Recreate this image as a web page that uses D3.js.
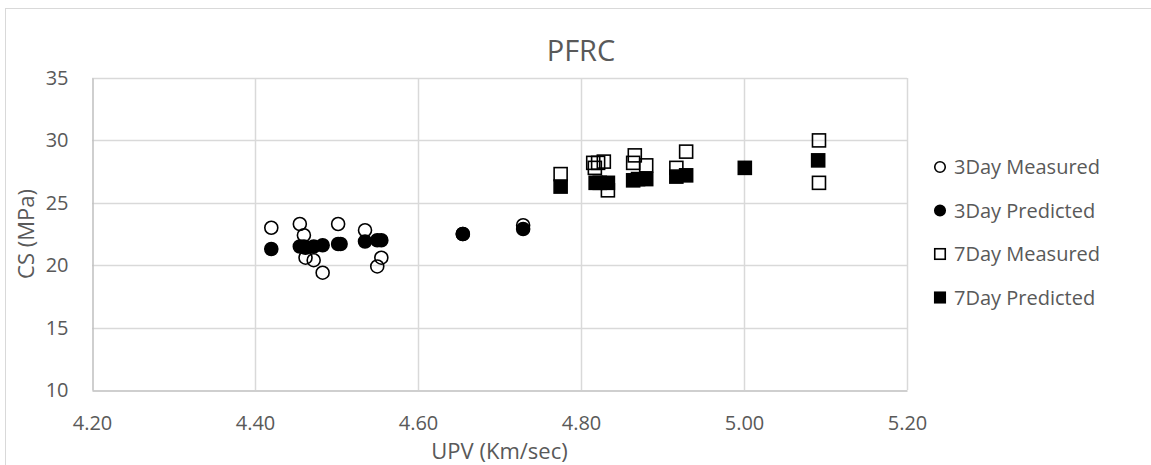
<!DOCTYPE html>
<html>
<head>
<meta charset="utf-8">
<script src="https://cdn.jsdelivr.net/npm/d3@7"></script>
<style>
  html, body { margin: 0; padding: 0; background: #fff; }
  svg { display: block; font-family: "Open Sans", "Liberation Sans", sans-serif; }
</style>
</head>
<body>
<svg id="chart" width="1151" height="465"></svg>
<script>
// UPV (km/s) against compressive strength (MPa), PFRC mixes
const measured3X  = [4.420, 4.455, 4.460, 4.462, 4.472, 4.483, 4.502, 4.535, 4.550, 4.555, 4.655, 4.729];
const measured3Y  = [23.0, 23.3, 22.4, 20.6, 20.4, 19.4, 23.3, 22.8, 19.9, 20.6, 22.5, 23.2];
const predicted3X = [4.420, 4.455, 4.460, 4.462, 4.472, 4.483, 4.502, 4.505, 4.535, 4.550, 4.555, 4.655, 4.729];
const predicted3Y = [21.3, 21.5, 21.5, 21.4, 21.5, 21.6, 21.7, 21.7, 21.9, 22.0, 22.0, 22.5, 22.9];
const measured7X  = [4.775, 4.815, 4.817, 4.821, 4.828, 4.833, 4.864, 4.866, 4.880, 4.917, 4.929, 5.092, 5.092];
const measured7Y  = [27.3, 28.2, 27.8, 28.2, 28.3, 26.0, 28.2, 28.8, 28.0, 27.8, 29.1, 30.0, 26.6];
const predicted7X = [4.775, 4.818, 4.823, 4.833, 4.864, 4.870, 4.880, 4.917, 4.929, 5.001, 5.091];
const predicted7Y = [26.3, 26.6, 26.6, 26.6, 26.8, 26.9, 26.9, 27.1, 27.2, 27.8, 28.4];
const xTicks = [4.20, 4.40, 4.60, 4.80, 5.00, 5.20];
const yTicks = [10, 15, 20, 25, 30, 35];
const seriesNames = ["3Day Measured", "3Day Predicted", "7Day Measured", "7Day Predicted"];

const series = [
  { name: seriesNames[0], xs: measured3X,  ys: measured3Y,  shape: "circle", filled: false },
  { name: seriesNames[1], xs: predicted3X, ys: predicted3Y, shape: "circle", filled: true },
  { name: seriesNames[2], xs: measured7X,  ys: measured7Y,  shape: "square", filled: false },
  { name: seriesNames[3], xs: predicted7X, ys: predicted7Y, shape: "square", filled: true }
];

const svg = d3.select("#chart");
const plot = { left: 92, right: 907, top: 78, bottom: 390 };
const textColor = "#595959";

// chart area border
svg.append("rect")
  .attr("x", 5.5).attr("y", 8.5)
  .attr("width", 1200).attr("height", 600)
  .attr("fill", "none").attr("stroke", "#d9d9d9").attr("stroke-width", 1);

const x = d3.scaleLinear().domain([4.2, 5.2]).range([plot.left, plot.right]);
const y = d3.scaleLinear().domain([10, 35]).range([plot.bottom, plot.top]);

// gridlines
const grid = svg.append("g");
grid.selectAll("line.v").data(xTicks.slice(1)).join("line")
  .attr("x1", d => Math.round(x(d)) + 0.5).attr("x2", d => Math.round(x(d)) + 0.5)
  .attr("y1", plot.top).attr("y2", plot.bottom)
  .attr("stroke", "#d9d9d9").attr("stroke-width", 1.5);
grid.selectAll("line.h").data(yTicks.slice(1)).join("line")
  .attr("x1", plot.left).attr("x2", plot.right)
  .attr("y1", d => Math.round(y(d)) + 0.5).attr("y2", d => Math.round(y(d)) + 0.5)
  .attr("stroke", "#d9d9d9").attr("stroke-width", 1.5);

// axes
const xAxis = d3.axisBottom(x).tickValues(xTicks).tickFormat(d3.format(".2f")).tickSize(0).tickPadding(25);
const yAxis = d3.axisLeft(y).tickValues(yTicks).tickFormat(d3.format("d")).tickSize(0).tickPadding(24);

const gx = svg.append("g").attr("transform", `translate(0,${plot.bottom + 0.5})`).call(xAxis);
const gy = svg.append("g").attr("transform", `translate(${plot.left + 0.5},0)`).call(yAxis);
[gx, gy].forEach(g => {
  g.select(".domain").attr("stroke", "#bfbfbf").attr("stroke-width", 1.5);
  g.selectAll("text").attr("fill", textColor).style("font-size", "20px").style("font-family", "\"Open Sans\", sans-serif");
});

// titles
svg.append("text").attr("x", 581).attr("y", 61).attr("text-anchor", "middle")
  .attr("fill", textColor).style("font-size", "29px").text("PFRC");
svg.append("text").attr("x", (plot.left + plot.right) / 2).attr("y", 459).attr("text-anchor", "middle")
  .attr("fill", textColor).style("font-size", "22px").text("UPV (Km/sec)");
svg.append("text")
  .attr("transform", `translate(34,${(plot.top + plot.bottom) / 2}) rotate(-90)`)
  .attr("text-anchor", "middle")
  .attr("fill", textColor).style("font-size", "22px").text("CS (MPa)");

// markers
function drawMarker(sel, shape, filled, size) {
  if (shape === "circle") {
    sel.append("circle").attr("r", size / 2);
  } else {
    sel.append("rect").attr("x", -size / 2).attr("y", -size / 2).attr("width", size).attr("height", size);
  }
  sel.select(":last-child")
    .attr("fill", filled ? "#000" : "none")
    .attr("stroke", "#000").attr("stroke-width", 1.6);
}

const marks = svg.append("g");
series.forEach(s => {
  const pts = s.xs.map((v, i) => [v, s.ys[i]]);
  marks.append("g").selectAll("g").data(pts).join("g")
    .attr("transform", d => `translate(${x(d[0])},${y(d[1])})`)
    .each(function () { drawMarker(d3.select(this), s.shape, s.filled, 13); });
});

// legend
const legend = svg.append("g");
series.forEach((s, i) => {
  const row = legend.append("g").attr("transform", `translate(940,${167 + i * 43.5})`);
  drawMarker(row, s.shape, s.filled, 10.5);
  row.append("text").attr("x", 14).attr("y", 7).attr("fill", textColor)
    .style("font-size", "20px").text(s.name);
});
</script>
</body>
</html>
